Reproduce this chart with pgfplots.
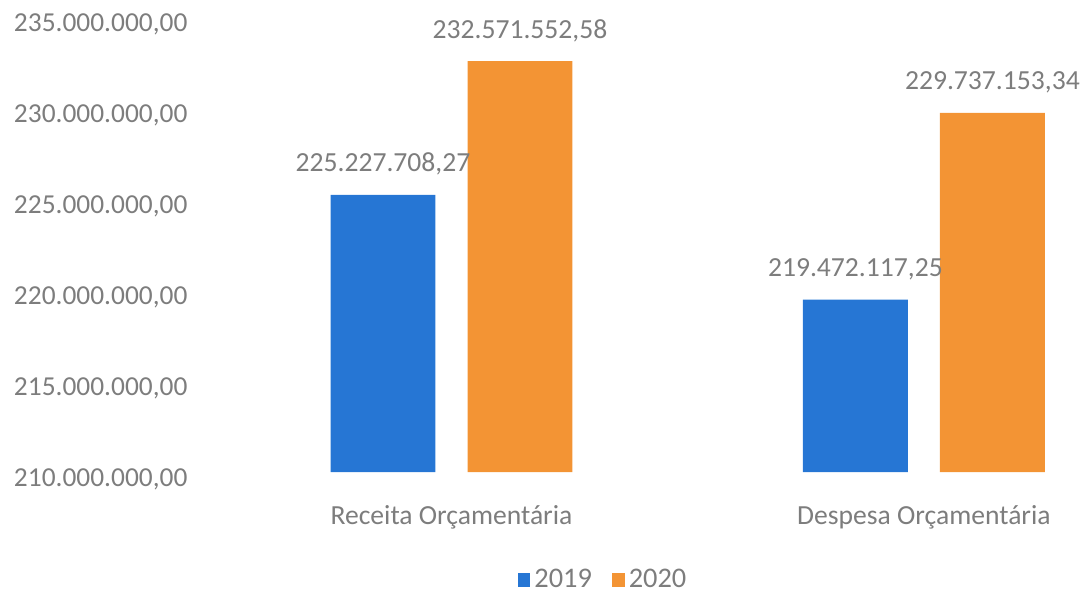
\documentclass[border=0pt]{standalone}
\usepackage{pgfplots}
\pgfplotsset{compat=1.18}
\usepackage{fontspec}
\setmainfont{Carlito}
\definecolor{cblue}{RGB}{38,118,212}
\definecolor{corange}{RGB}{243,148,52}
\definecolor{tgray}{RGB}{125,125,125}
\begin{document}
\begin{tikzpicture}
\path[use as bounding box] (0pt,0pt) rectangle (541pt,298pt);
\begin{axis}[
  at={(102.9pt,62pt)}, anchor=south west,
  scale only axis, width=437pt, height=227.5pt,
  xmin=-0.52, xmax=1.33, ymin=210000000, ymax=235000000,
  axis line style={draw=none}, tick style={draw=none},
  clip=false,
  scaled y ticks=false,
  ytick={210000000,215000000,220000000,225000000,230000000,235000000},
  yticklabels={{210.000.000,00},{215.000.000,00},{220.000.000,00},{225.000.000,00},{230.000.000,00},{235.000.000,00}},
  yticklabel style={anchor=base east, inner sep=0pt, xshift=-9pt, yshift=-7pt, font=\fontsize{13.7}{16}\selectfont, text=tgray},
  xtick={0,1},
  xticklabels={Receita Orçamentária, Despesa Orçamentária},
  xticklabel style={anchor=base, inner sep=0pt, yshift=-22pt, font=\fontsize{13.8}{16}\selectfont, text=tgray},
  ybar, bar width=0.222,
  point meta=explicit symbolic,
  nodes near coords,
  nodes near coords style={anchor=base, inner sep=0pt, yshift=11.5pt, font=\fontsize{13.8}{16}\selectfont, text=tgray},
  legend style={at={(0.4556,-0.237)}, anchor=center, draw=none, fill=none, legend columns=2,
    font=\fontsize{14.2}{16}\selectfont, text=tgray,
    /tikz/every even column/.append style={column sep=8pt},
    /tikz/every node/.append style={inner xsep=2pt}},
]
\addplot[fill=cblue, draw=none, bar shift=-0.145,
  legend image code/.code={\fill[cblue] (0pt,-3.4pt) rectangle (6.4pt,3.4pt);}]
  coordinates {(0,225227708.27) [225.227.708,27] (1,219472117.25) [219.472.117,25]};
\addplot[fill=corange, draw=none, bar shift=0.145,
  legend image code/.code={\fill[corange] (0pt,-3.4pt) rectangle (6.4pt,3.4pt);}]
  coordinates {(0,232571552.58) [232.571.552,58] (1,229737153.34) [229.737.153,34]};
\legend{2019,2020}
\end{axis}
\end{tikzpicture}
\end{document}
